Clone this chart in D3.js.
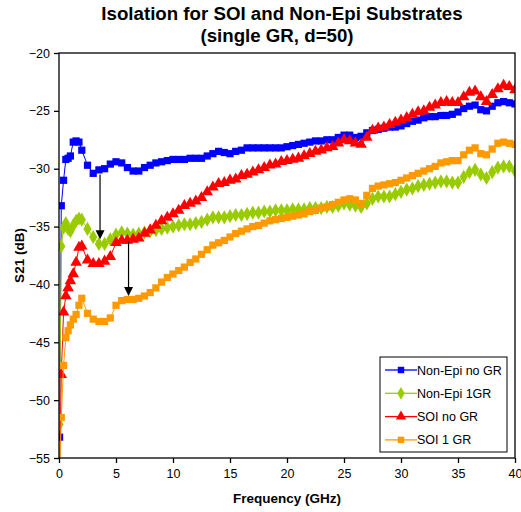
<!DOCTYPE html>
<html>
<head>
<meta charset="utf-8">
<script src="https://cdn.jsdelivr.net/npm/d3@7"></script>
<style>
  body { margin: 0; background: #fff; }
  text { font-family: "Liberation Sans", Arial, sans-serif; fill: #000; }
</style>
</head>
<body>
<div id="chart"></div>
<script>
// frequencies (GHz), shared by all four series
var freq = [0.05, 0.2, 0.4, 0.6, 0.8, 1.0, 1.25, 1.5, 1.75,
  2.0, 2.5, 3.0, 3.5, 4.0, 4.5, 5.0, 5.5, 6.0, 6.5,
  7.0, 7.5, 8.0, 8.5, 9.0, 9.5, 10.0, 10.5, 11.0, 11.5,
  12.0, 12.5, 13.0, 13.5, 14.0, 14.5, 15.0, 15.5, 16.0, 16.5,
  17.0, 17.5, 18.0, 18.5, 19.0, 19.5, 20.0, 20.5, 21.0, 21.5,
  22.0, 22.5, 23.0, 23.5, 24.0, 24.5, 25.0, 25.5, 26.0, 26.5,
  27.0, 27.5, 28.0, 28.5, 29.0, 29.5, 30.0, 30.5, 31.0, 31.5,
  32.0, 32.5, 33.0, 33.5, 34.0, 34.5, 35.0, 35.5, 36.0, 36.5,
  37.0, 37.5, 38.0, 38.5, 39.0, 39.5, 40.0];

var nonEpiNoGR = [-53.2, -33.2, -31.0, -29.2, -29.1, -28.9, -27.7, -27.6, -27.7,
  -28.4, -29.7, -30.4, -30.1, -30.0, -29.6, -29.4, -29.5, -29.9, -30.2,
  -30.2, -29.9, -29.7, -29.5, -29.4, -29.3, -29.2, -29.2, -29.2, -29.1,
  -29.1, -29.1, -28.9, -28.7, -28.5, -28.6, -28.7, -28.5, -28.4, -28.2,
  -28.2, -28.2, -28.2, -28.2, -28.2, -28.2, -28.1, -28.0, -27.9, -27.8,
  -27.7, -27.6, -27.6, -27.5, -27.5, -27.3, -27.1, -27.1, -27.3, -27.2,
  -26.9, -26.7, -26.6, -26.5, -26.4, -26.4, -26.3, -26.1, -25.9, -25.8,
  -25.6, -25.5, -25.5, -25.4, -25.4, -25.3, -25.1, -24.8, -24.6, -24.5,
  -24.9, -25.0, -24.6, -24.3, -24.2, -24.3, -24.4];

var nonEpi1GR = [-52.1, -36.7, -35.1, -34.7, -35.2, -35.4, -34.9, -34.5, -34.3,
  -34.4, -35.2, -35.9, -36.5, -36.5, -36.1, -35.7, -35.5, -35.6, -35.7,
  -35.6, -35.5, -35.4, -35.3, -35.2, -35.1, -35.0, -34.9, -34.8, -34.8,
  -34.7, -34.6, -34.4, -34.2, -34.2, -34.2, -34.1, -34.0, -34.0, -33.9,
  -33.8, -33.8, -33.7, -33.7, -33.6, -33.6, -33.6, -33.5, -33.5, -33.5,
  -33.4, -33.4, -33.4, -33.3, -33.3, -33.2, -33.0, -33.1, -33.2, -33.3,
  -33.0, -32.6, -32.4, -32.4, -32.4, -32.2, -32.0, -31.8, -31.7, -31.5,
  -31.4, -31.3, -31.2, -31.1, -31.1, -31.2, -31.2, -30.7, -30.3, -30.1,
  -30.5, -30.8, -30.3, -29.9, -29.8, -29.8, -30.2];

var soiNoGR = [-57.0, -47.8, -42.4, -41.0, -40.3, -39.7, -39.1, -38.1, -36.8,
  -36.7, -37.9, -38.2, -38.2, -38.0, -37.6, -36.4, -36.2, -36.2, -36.1,
  -36.0, -35.6, -35.3, -34.9, -34.5, -34.2, -33.9, -33.6, -33.2, -33.0,
  -32.8, -32.5, -32.0, -31.6, -31.3, -31.2, -31.0, -30.9, -30.6, -30.5,
  -30.3, -30.1, -29.9, -29.7, -29.6, -29.4, -29.3, -29.2, -29.1, -28.9,
  -28.7, -28.5, -28.4, -28.2, -28.1, -27.8, -27.5, -27.6, -27.8, -27.9,
  -27.3, -26.7, -26.5, -26.4, -26.2, -26.0, -25.8, -25.6, -25.3, -25.1,
  -25.0, -24.7, -24.5, -24.3, -24.2, -24.3, -24.3, -23.8, -23.4, -23.3,
  -23.8, -24.2, -23.6, -23.1, -22.8, -22.9, -23.2];

var soi1GR = [-57.0, -51.5, -47.0, -44.6, -44.0, -43.5, -43.0, -42.6, -41.8,
  -41.2, -42.5, -43.0, -43.2, -43.2, -42.9, -41.8, -41.4, -41.3, -41.3,
  -41.2, -41.0, -40.7, -40.3, -39.8, -39.4, -39.1, -38.8, -38.5, -38.1,
  -37.8, -37.4, -37.0, -36.6, -36.4, -36.2, -35.9, -35.6, -35.4, -35.2,
  -35.0, -34.9, -34.7, -34.5, -34.4, -34.3, -34.2, -34.1, -34.0, -33.9,
  -33.7, -33.6, -33.4, -33.3, -33.1, -32.9, -32.7, -32.6, -32.7, -33.0,
  -32.3, -31.7, -31.5, -31.4, -31.3, -31.2, -31.0, -30.8, -30.6, -30.4,
  -30.2, -30.0, -29.8, -29.5, -29.4, -29.3, -29.3, -28.8, -28.4, -28.2,
  -28.7, -28.8, -28.3, -27.8, -27.7, -27.8, -27.9];

var seriesNames = ['Non-Epi no GR', 'Non-Epi 1GR', 'SOI no GR', 'SOI 1 GR'];
var xTicks = [0, 5, 10, 15, 20, 25, 30, 35, 40];
var yTicks = [-55, -50, -45, -40, -35, -30, -25, -20];
// arrows: [freq, from dB, to dB]
var arrows = [[3.6, -30.5, -36.1], [6.1, -36.3, -41.0]];

var width = 521, height = 512;
var plotL = 59, plotR = 515, plotT = 53, plotB = 458;

var x = d3.scaleLinear().domain([0, 40]).range([plotL, plotR]);
var y = d3.scaleLinear().domain([-55, -20]).range([plotB, plotT]);

var series = [
  { name: seriesNames[0], values: nonEpiNoGR, color: '#0000ff', line: '#0000ff', symbol: d3.symbolSquare, size: 52 },
  { name: seriesNames[1], values: nonEpi1GR, color: '#99cc00', line: '#99cc00', symbol: d3.symbolDiamond, size: 58 },
  { name: seriesNames[2], values: soiNoGR, color: '#ff0000', line: '#ff0000', symbol: d3.symbolTriangle, size: 58 },
  { name: seriesNames[3], values: soi1GR, color: '#ff9900', line: '#ff9900', symbol: d3.symbolSquare, size: 52 }
];

var svg = d3.select('#chart').append('svg')
  .attr('width', width)
  .attr('height', height);

svg.append('defs').append('clipPath')
  .attr('id', 'plot')
  .append('rect')
  .attr('x', plotL).attr('y', plotT)
  .attr('width', plotR - plotL).attr('height', plotB - plotT);

// title
var title = svg.append('text')
  .attr('text-anchor', 'middle')
  .attr('font-weight', 'bold')
  .attr('font-size', '18.7px');
title.append('tspan').attr('x', 282).attr('y', 20)
  .text('Isolation for SOI and Non-Epi Substrates');
title.append('tspan').attr('x', 277).attr('y', 42)
  .text('(single GR, d=50)');

// axes
var xAxis = svg.append('g')
  .attr('transform', 'translate(0,' + plotB + ')')
  .call(d3.axisBottom(x).tickValues(xTicks).tickSize(5).tickPadding(6).tickFormat(d3.format('d')));
var yAxis = svg.append('g')
  .attr('transform', 'translate(' + plotL + ',0)')
  .call(d3.axisLeft(y).tickValues(yTicks).tickSize(5).tickPadding(4).tickFormat(d3.format('d')));

[xAxis, yAxis].forEach(function (a) {
  a.select('.domain').remove();
  a.selectAll('line').attr('stroke', '#000').attr('stroke-width', 1.3);
  a.selectAll('text')
    .attr('font-family', '"Liberation Sans", Arial, sans-serif')
    .attr('font-size', '12.5px')
    .attr('fill', '#000');
});

svg.append('text')
  .attr('x', (plotL + plotR) / 2).attr('y', 503)
  .attr('text-anchor', 'middle')
  .attr('font-weight', 'bold')
  .attr('font-size', '13.5px')
  .text('Frequency (GHz)');

svg.append('text')
  .attr('transform', 'translate(24,' + ((plotT + plotB) / 2) + ') rotate(-90)')
  .attr('text-anchor', 'middle')
  .attr('font-weight', 'bold')
  .attr('font-size', '13.5px')
  .text('S21 (dB)');

// series
var line = d3.line()
  .x(function (d) { return x(d[0]); })
  .y(function (d) { return y(d[1]); });

var plot = svg.append('g').attr('clip-path', 'url(#plot)');

series.forEach(function (s) {
  var pts = freq.map(function (f, i) { return [f, s.values[i]]; });
  var g = plot.append('g');
  g.append('path')
    .attr('d', line(pts))
    .attr('fill', 'none')
    .attr('stroke', s.line)
    .attr('stroke-width', 1);
  g.selectAll('path.m')
    .data(pts)
    .enter().append('path')
    .attr('class', 'm')
    .attr('transform', function (d) { return 'translate(' + x(d[0]) + ',' + y(d[1]) + ')'; })
    .attr('d', d3.symbol().type(s.symbol).size(s.size))
    .attr('fill', s.color);
});

// plot border
svg.append('rect')
  .attr('x', plotL).attr('y', plotT)
  .attr('width', plotR - plotL).attr('height', plotB - plotT)
  .attr('fill', 'none')
  .attr('stroke', '#000')
  .attr('stroke-width', 1.3);

// arrows
arrows.forEach(function (a) {
  var ax = x(a[0]), y0 = y(a[1]), y1 = y(a[2]);
  svg.append('line')
    .attr('x1', ax).attr('x2', ax)
    .attr('y1', y0).attr('y2', y1 - 8)
    .attr('stroke', '#000')
    .attr('stroke-width', 1.2);
  svg.append('path')
    .attr('d', 'M' + ax + ',' + y1 + 'L' + (ax - 4.5) + ',' + (y1 - 9) + 'L' + (ax + 4.5) + ',' + (y1 - 9) + 'Z')
    .attr('fill', '#000');
});

// legend
var lg = svg.append('g');
lg.append('rect')
  .attr('x', 380).attr('y', 357)
  .attr('width', 127).attr('height', 95)
  .attr('fill', '#fff')
  .attr('stroke', '#000')
  .attr('stroke-width', 1);

series.forEach(function (s, i) {
  var ly = 370 + i * 23.3;
  lg.append('line')
    .attr('x1', 385).attr('x2', 417)
    .attr('y1', ly).attr('y2', ly)
    .attr('stroke', s.line)
    .attr('stroke-width', 1.3);
  lg.append('path')
    .attr('transform', 'translate(401,' + ly + ')')
    .attr('d', d3.symbol().type(s.symbol).size(s.size * 0.8))
    .attr('fill', s.color);
  lg.append('text')
    .attr('x', 417).attr('y', ly + 4.5)
    .attr('font-size', '12.5px')
    .text(s.name);
});
</script>
</body>
</html>
